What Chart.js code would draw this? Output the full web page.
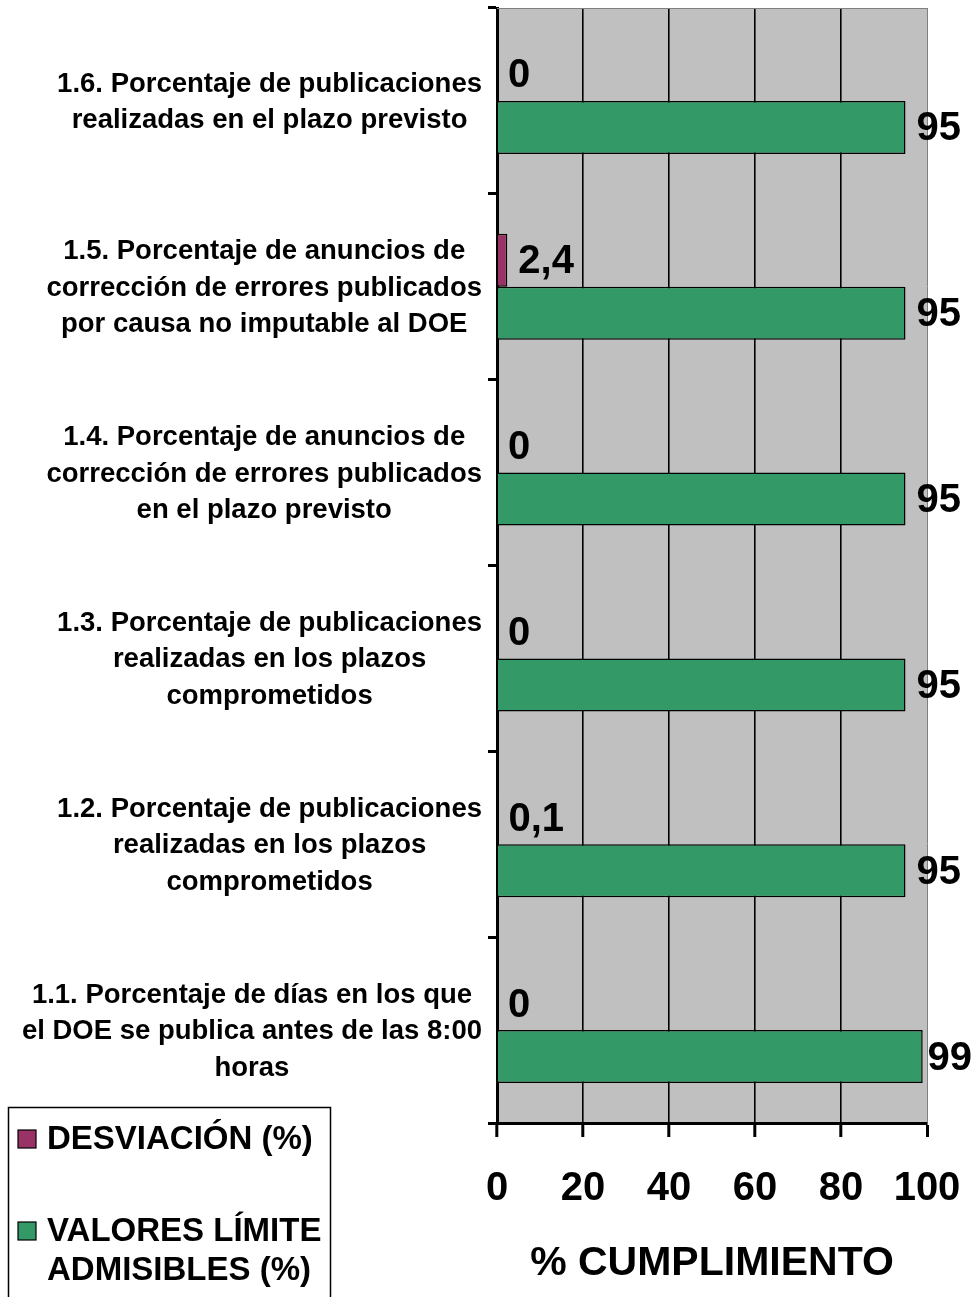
<!DOCTYPE html>
<html><head><meta charset="utf-8">
<script src="https://cdn.jsdelivr.net/npm/chart.js@4.4.0/dist/chart.umd.min.js"></script>
<style>html,body{margin:0;padding:0;background:#fff;}#wrap{width:974px;height:1297px;}</style>
</head><body><div id="wrap"><canvas id="c" width="974" height="1297"></canvas></div>
<script>
const categories = [
  ['1.6. Porcentaje de publicaciones','realizadas en el plazo previsto'],
  ['1.5. Porcentaje de anuncios de','corrección de errores publicados','por causa no imputable al DOE'],
  ['1.4. Porcentaje de anuncios de','corrección de errores publicados','en el plazo previsto'],
  ['1.3. Porcentaje de publicaciones','realizadas en los plazos','comprometidos'],
  ['1.2. Porcentaje de publicaciones','realizadas en los plazos','comprometidos'],
  ['1.1. Porcentaje de días en los que','el DOE se publica antes de las 8:00','horas']
];
const desviacion = [0, 2.4, 0, 0, 0.1, 0];
const valoresLimite = [95, 95, 95, 95, 95, 99];
const xTicks = [0, 20, 40, 60, 80, 100];
const seriesNames = [['DESVIACIÓN (%)'], ['VALORES LÍMITE', 'ADMISIBLES (%)']];
const axisTitle = '% CUMPLIMIENTO';

const FONT = '"Liberation Sans", Arial, Helvetica, sans-serif';
Chart.defaults.font.family = FONT;

const fmt = v => String(v).replace('.', ',');

const bgPlugin = {
  id: 'bg',
  beforeDraw(chart) {
    const {ctx, chartArea: a} = chart;
    ctx.save();
    ctx.fillStyle = '#C0C0C0';
    ctx.fillRect(a.left, a.top, a.right - a.left, a.bottom - a.top);
    ctx.restore();
  },
  afterDatasetsDraw(chart) {
    const {ctx, chartArea: a} = chart;
    ctx.save();
    ctx.strokeStyle = '#808080';
    ctx.lineWidth = 1;
    ctx.beginPath();
    ctx.moveTo(a.left, a.top + 0.5);
    ctx.lineTo(a.right, a.top + 0.5);
    ctx.stroke();
    // data labels
    ctx.fillStyle = '#000';
    ctx.font = 'bold 40px ' + FONT;
    ctx.textAlign = 'left';
    ctx.textBaseline = 'middle';
    chart.data.datasets.forEach((ds, di) => {
      const meta = chart.getDatasetMeta(di);
      meta.data.forEach((el, i) => {
        const t = fmt(ds.data[i]);
        const w = ctx.measureText(t).width;
        const x = Math.min(el.x + 11, chart.width - w - 2);
        ctx.fillText(t, x, el.y + 2);
      });
    });
    ctx.restore();
  },
  afterDraw(chart) {
    const {ctx} = chart;
    const ys = chart.scales.y;
    ctx.save();
    // category labels
    ctx.fillStyle = '#000';
    ctx.font = 'bold 27.5px ' + FONT;
    ctx.textAlign = 'center';
    ctx.textBaseline = 'middle';
    const lh = 36.5;
    chart.data.labels.forEach((lines, i) => {
      const yc = ys.getPixelForValue(i);
      const w = Math.max(...lines.map(l => ctx.measureText(l).width));
      const xc = 482 - w / 2;
      lines.forEach((l, j) => {
        ctx.fillText(l, xc, yc + (j - (lines.length - 1) / 2) * lh + 1.5);
      });
    });
    // legend
    ctx.strokeStyle = '#000';
    ctx.lineWidth = 1.5;
    ctx.strokeRect(8.5, 1107.5, 322, 200);
    const itemY = [1139, 1231];
    ctx.font = 'bold 33px ' + FONT;
    ctx.textAlign = 'left';
    chart.data.datasets.forEach((ds, di) => {
      const y = itemY[di];
      ctx.fillStyle = ds.backgroundColor;
      ctx.fillRect(18, y - 9, 18, 18);
      ctx.lineWidth = 1.2;
      ctx.strokeRect(18, y - 9, 18, 18);
      ctx.fillStyle = '#000';
      seriesNames[di].forEach((t, j) => ctx.fillText(t, 47, y + j * 39 + 1));
    });
    ctx.restore();
  }
};

new Chart(document.getElementById('c'), {
  type: 'bar',
  data: {
    labels: categories,
    datasets: [
      { label: seriesNames[0].join(' '), data: desviacion, backgroundColor: '#993366', borderColor: '#000', borderWidth: 1.5, barPercentage: 1, categoryPercentage: 0.57 },
      { label: seriesNames[1].join(' '), data: valoresLimite, backgroundColor: '#339966', borderColor: '#000', borderWidth: 1.5, barPercentage: 1, categoryPercentage: 0.57 }
    ]
  },
  options: {
    indexAxis: 'y',
    responsive: false,
    animation: false,
    layout: { padding: { top: 8, right: 47, left: 0, bottom: 0 } },
    plugins: { legend: { display: false }, tooltip: { enabled: false } },
    scales: {
      y: {
        type: 'category',
        position: 'left',
        afterFit: s => { s.width = 497; s.paddingTop = 0; s.paddingBottom = 0; },
        ticks: { display: false },
        grid: { drawOnChartArea: false, drawTicks: true, tickLength: 9, tickColor: '#000', tickWidth: 3, offset: true },
        border: { display: true, color: '#000', width: 3 }
      },
      x: {
        type: 'linear',
        min: 0, max: 100,
        position: 'bottom',
        afterFit: s => { s.height = 174; s.paddingLeft = 0; s.paddingRight = 0; },
        afterBuildTicks: s => { s.ticks = xTicks.map(v => ({ value: v })); },
        ticks: { font: { size: 40, weight: 'bold' }, color: '#000', padding: 28, maxRotation: 0, autoSkip: false },
        grid: {
          color: ctx => (ctx.tick && ctx.tick.value === 100) ? '#808080' : '#000',
          lineWidth: ctx => (ctx.tick && ctx.tick.value === 100) ? 1 : 1.6,
          tickColor: '#000', tickWidth: 3, tickLength: 14
        },
        border: { display: true, color: '#000', width: 3 },
        title: { display: true, text: axisTitle, font: { size: 41, weight: 'bold' }, color: '#000', padding: { top: 0, bottom: 9 } }
      }
    }
  },
  plugins: [bgPlugin]
});
</script>
</body></html>
